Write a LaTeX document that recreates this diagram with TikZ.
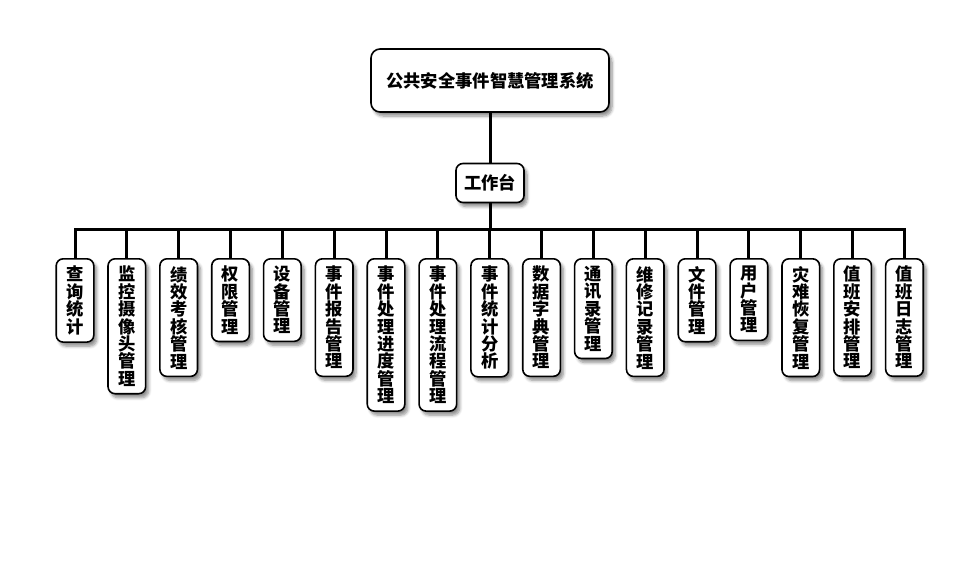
\documentclass[tikz,border=0pt]{standalone}
\usepackage{fontspec}
\newfontfamily\cjk{Noto Sans CJK SC}
\usetikzlibrary{shadows.blur}
\tikzset{
  box/.style={draw=black, line width=1.6pt, fill=white, font=\cjk\bfseries\fontsize{17.3}{17.4}\selectfont,
    blur shadow={shadow xshift=3pt, shadow yshift=-4pt, shadow blur steps=6, shadow blur radius=3pt, shadow opacity=45}},
  rootbox/.style={box, rounded corners=9pt, minimum width=238pt, minimum height=63pt},
  midbox/.style={box, rounded corners=7pt, minimum width=68pt, minimum height=39pt, inner sep=0pt},
  leaf/.style={box, rounded corners=7pt, anchor=north, align=center, minimum width=37.6pt, inner xsep=3pt, inner ysep=7.3pt},
  conn/.style={line width=3pt, black}
}
\begin{document}
\begin{tikzpicture}[x=1pt, y=-1pt]
\useasboundingbox (0,0) rectangle (980,560);
\node[rootbox] (root) at (490,80.5) {公共安全事件智慧管理系统};
\node[midbox] (mid) at (490,183) {工作台};
\coordinate (busL) at (75,229.5);
\coordinate (busR) at (904.5,229.5);
\coordinate (busM) at (490,229.5);
\draw[conn] (root.south) -- (mid.north);
\draw[conn] (mid.south) -- (busM);
\draw[conn, line cap=rect] (busL) -- (busR);
\foreach [count=\i from 0] \t in {
  {查\\询\\统\\计},
  {监\\控\\摄\\像\\头\\管\\理},
  {绩\\效\\考\\核\\管\\理},
  {权\\限\\管\\理},
  {设\\备\\管\\理},
  {事\\件\\报\\告\\管\\理},
  {事\\件\\处\\理\\进\\度\\管\\理},
  {事\\件\\处\\理\\流\\程\\管\\理},
  {事\\件\\统\\计\\分\\析},
  {数\\据\\字\\典\\管\\理},
  {通\\讯\\录\\管\\理},
  {维\\修\\记\\录\\管\\理},
  {文\\件\\管\\理},
  {用\\户\\管\\理},
  {灾\\难\\恢\\复\\管\\理},
  {值\\班\\安\\排\\管\\理},
  {值\\班\\日\\志\\管\\理}} {
  \pgfmathsetmacro{\xx}{75+\i*51.84}
  \node[leaf] (leaf\i) at (\xx,258) {\t};
  \coordinate (tap\i) at (\xx,229.5);
  \draw[conn] (tap\i) -- (leaf\i.north);
}
\end{tikzpicture}
\end{document}
